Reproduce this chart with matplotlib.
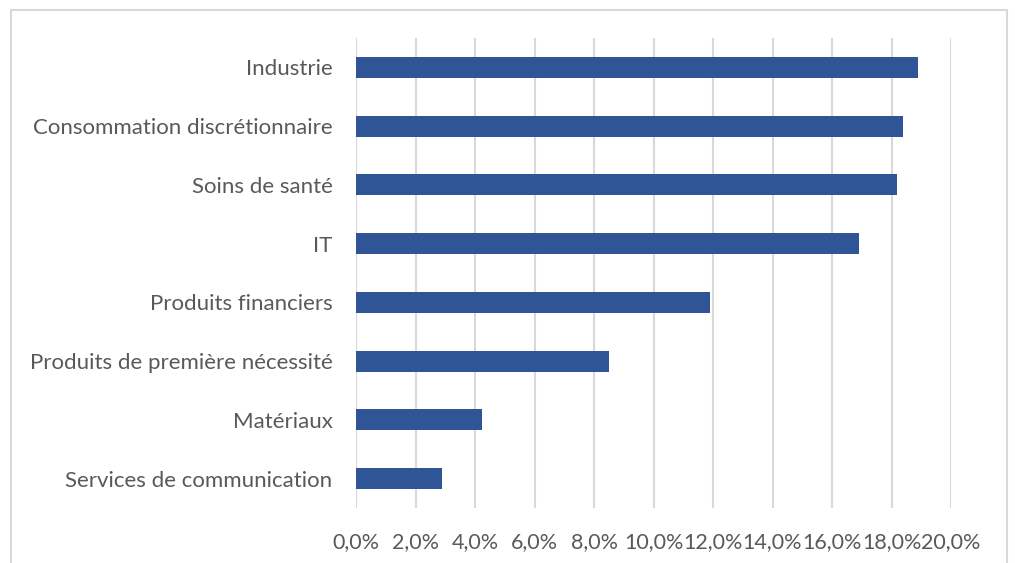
import matplotlib
matplotlib.use("Agg")
import matplotlib.pyplot as plt
from matplotlib.patches import Rectangle
from matplotlib.ticker import FuncFormatter

categories = ["Industrie", "Consommation discrétionnaire", "Soins de santé", "IT",
              "Produits financiers", "Produits de première nécessité", "Matériaux",
              "Services de communication"]
values = [18.9, 18.4, 18.2, 16.9, 11.9, 8.5, 4.25, 2.9]
xticks = [0, 2, 4, 6, 8, 10, 12, 14, 16, 18, 20]

plt.rcParams['font.family'] = ['Lato', 'DejaVu Sans']
fig = plt.figure(figsize=(10.15, 5.63), dpi=100)
ax = fig.add_axes([356/1015, 1-508/563, (951-356)/1015, (508-38)/563])

y = list(range(len(categories)))[::-1]
ax.barh(y, values, height=0.36, color="#2F5597", zorder=3)
ax.set_yticks(y)
ax.set_yticklabels(categories)
ax.set_ylim(-0.5, len(categories)-0.5)
ax.set_xlim(0, 20)
ax.set_xticks(xticks)
ax.xaxis.set_major_formatter(FuncFormatter(lambda v, p: f"{v:.1f}%".replace(".", ",")))
ax.grid(axis="x", color="#D9D9D9", linewidth=1.5, zorder=0)
for s in ax.spines.values():
    s.set_visible(False)
ax.tick_params(axis="both", length=0, colors="#595959")
ax.tick_params(axis="y", pad=17, labelsize=16)
ax.tick_params(axis="x", pad=17, labelsize=15.5)

fig.patches.append(Rectangle((11/1015, -0.05), (1007-11)/1015, 1.05 - 10/563,
                             transform=fig.transFigure, fill=False,
                             edgecolor="#D9D9D9", linewidth=1.5))
fig.savefig("out.png", dpi=100)
